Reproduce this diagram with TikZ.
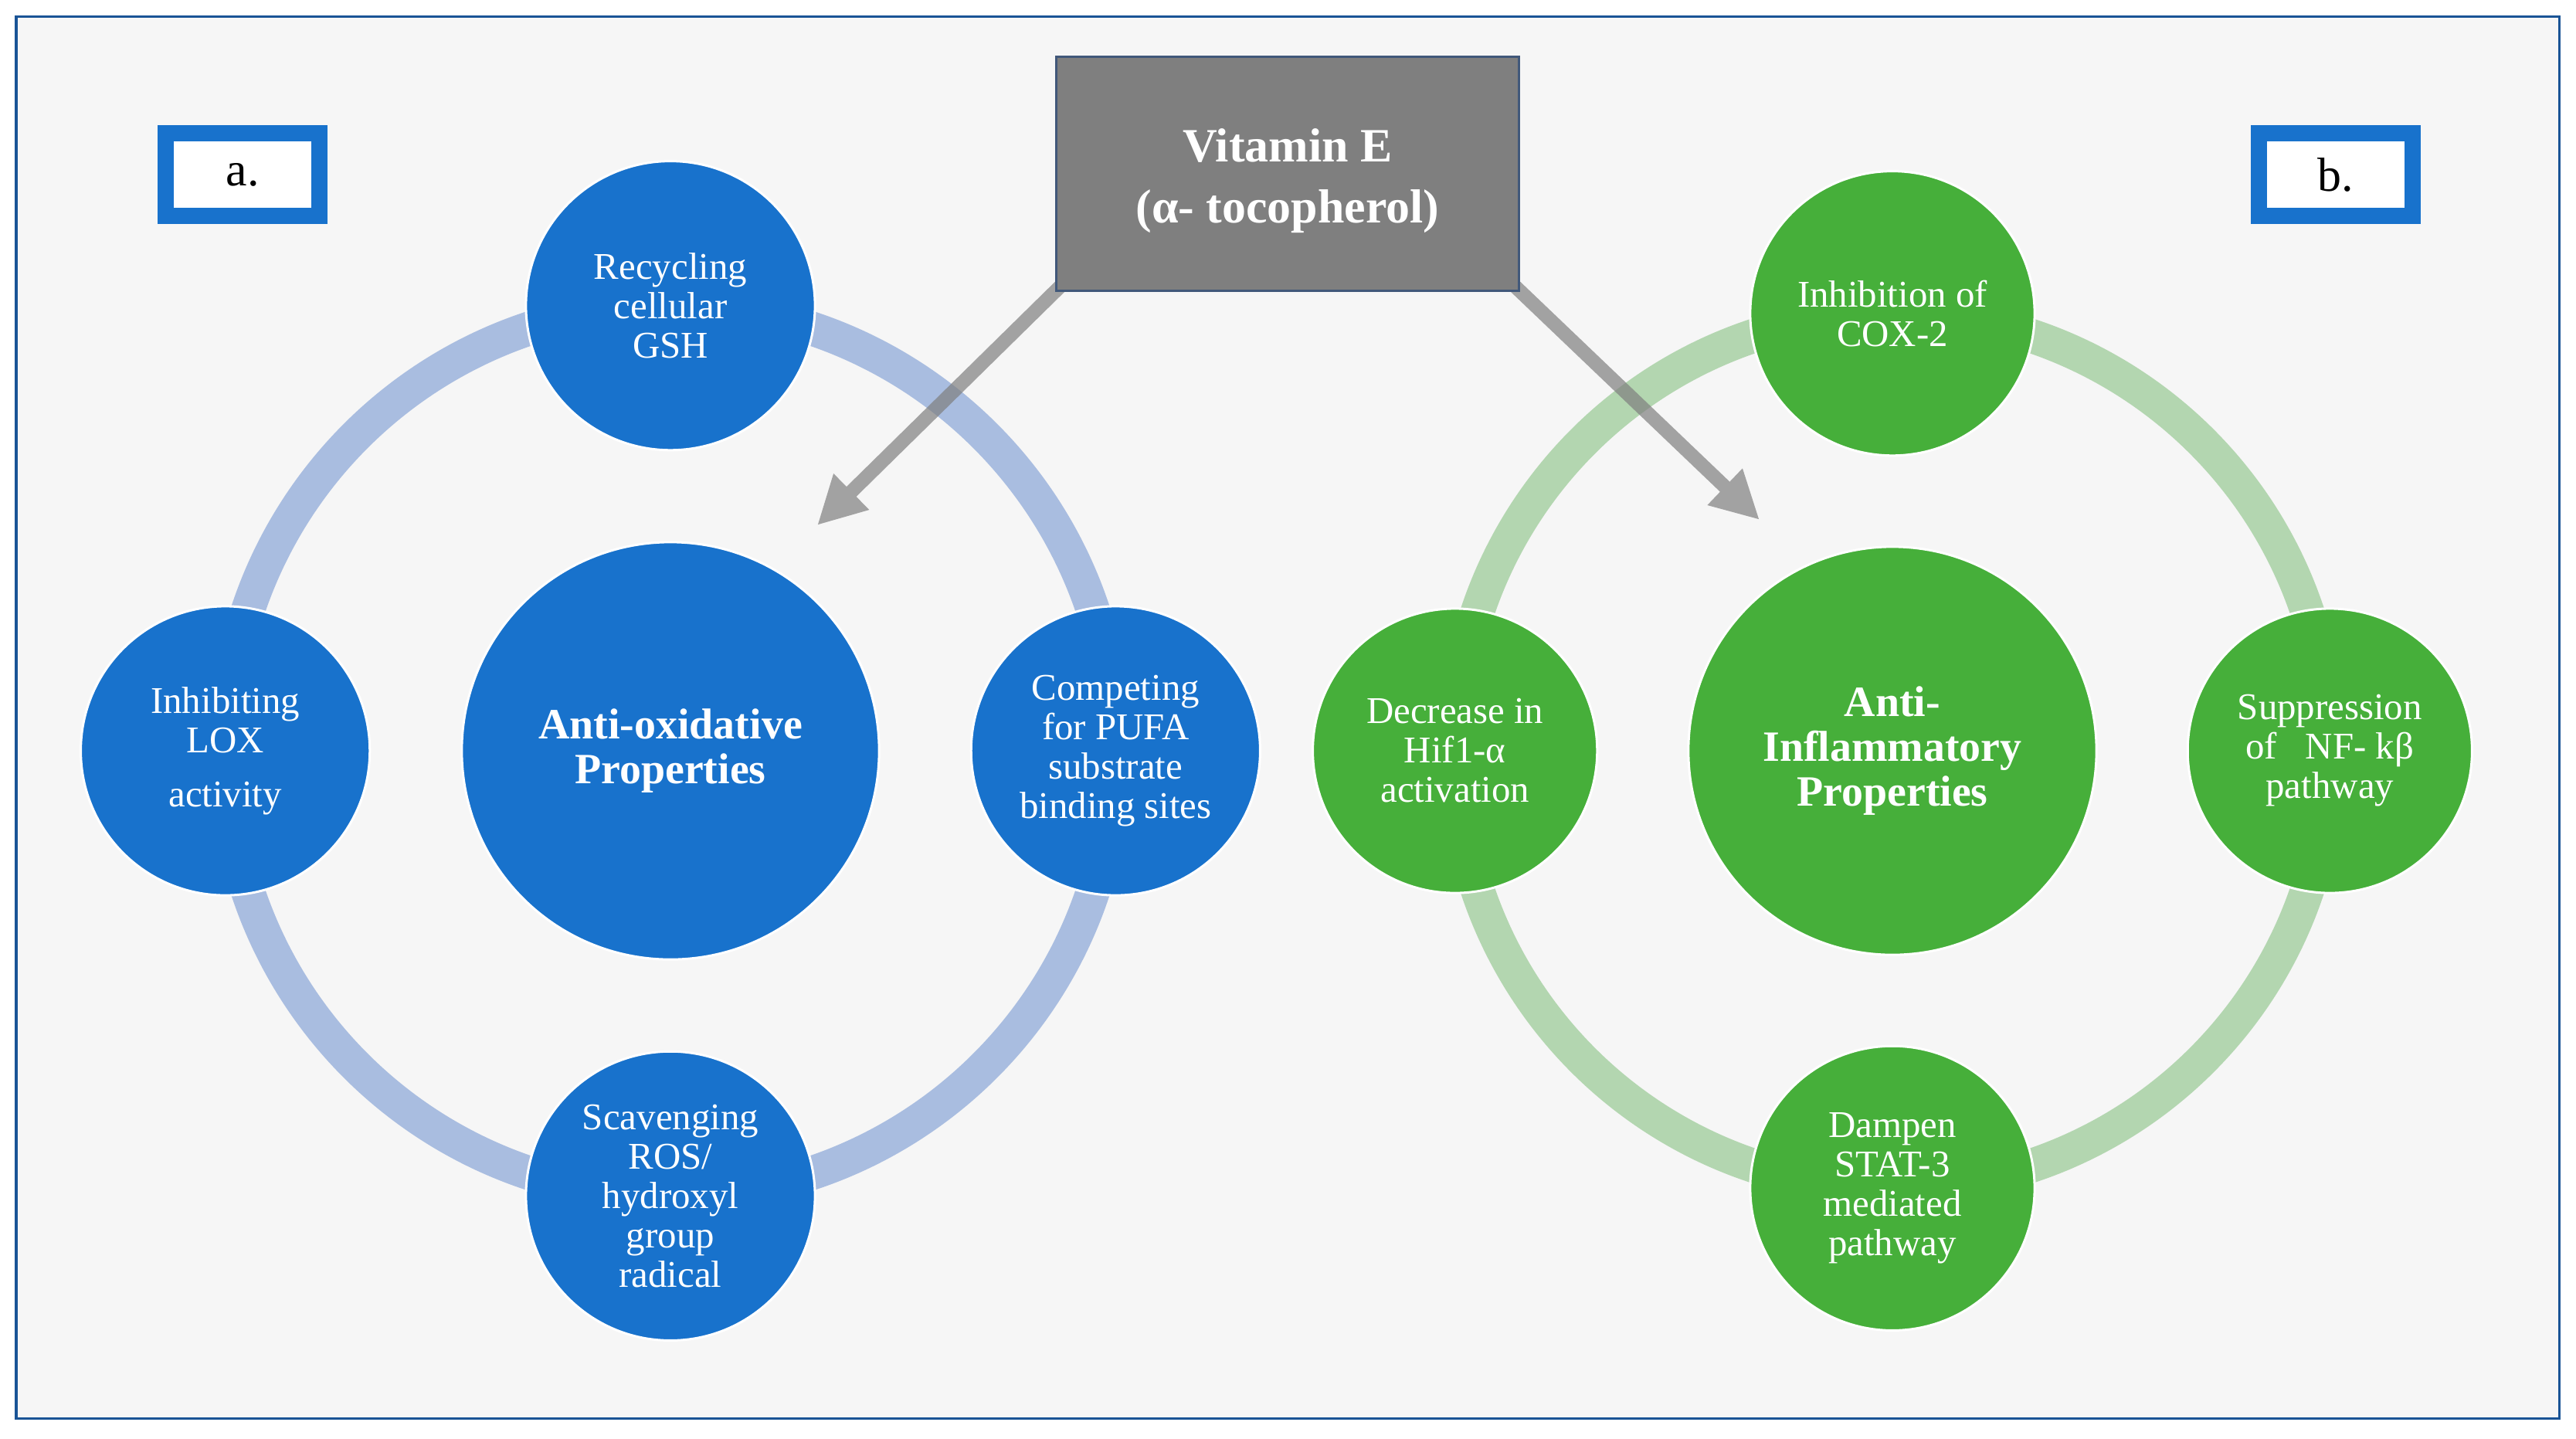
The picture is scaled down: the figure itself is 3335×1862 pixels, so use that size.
\documentclass[tikz,border=0pt]{standalone}
\usepackage{fontspec}
\setmainfont{Liberation Serif}
\usetikzlibrary{arrows.meta,positioning}

\definecolor{frameblue}{RGB}{26,84,150}
\definecolor{paper}{RGB}{246,246,246}
\definecolor{oxblue}{RGB}{24,114,204}
\definecolor{ringblue}{RGB}{169,189,224}
\definecolor{infgreen}{RGB}{70,175,58}
\definecolor{ringgreen}{RGB}{179,214,176}
\definecolor{boxgray}{RGB}{127,127,127}
\definecolor{boxedge}{RGB}{65,88,122}

\pgfdeclarelayer{back}
\pgfsetlayers{back,main}

\tikzset{every picture/.style={
  >={Triangle[length=0.62cm,width=0.61cm]}   % Wide filled heads.
  }
}

\begin{document}
\begin{tikzpicture}[x=0.01cm,y=-0.01cm,
    hub/.style={                % Big circles in the middle of each ring.
      circle,
      draw=white,
      line width=0.03cm,
      text=white,
      align=center,
      inner sep=0pt,
      outer sep=0pt,
      font=\fontsize{15.9}{16.6}\selectfont\bfseries
    },
    sat/.style={                % Small circles sitting on a ring.
      circle,
      draw=white,
      line width=0.03cm,
      text=white,
      align=center,
      inner sep=0pt,
      outer sep=0pt,
      minimum size=3.74cm,
      font=\fontsize{13.9}{14.5}\selectfont
    },
    tag/.style={                % Panel letters.
      rectangle,
      draw=oxblue,
      line width=0.21cm,
      fill=white,
      minimum width=1.99cm,
      minimum height=1.07cm,
      font=\fontsize{17.6}{20}\selectfont
    },
    ring/.style={               % Pale ring joining the small circles.
      line width=0.44cm
    },
    pointer/.style={            % Arrows leaving the vitamin box.
      ->,
      draw=boxgray,
      line width=0.18cm
    }]

    \useasboundingbox (0,0) rectangle (3335,1862);

    % Panel a: anti-oxidative side.
    \node[hub,fill=oxblue,minimum size=5.40cm] (oxid) at (868,972)
      {Anti-oxidative\\Properties};
    \node[sat,fill=oxblue] (gsh) [above=1.19cm of oxid]
      {Recycling\\cellular\\GSH};
    \node[sat,fill=oxblue] (lox) [left=1.19cm of oxid]
      {Inhibiting\\LOX\\[0.19cm]activity};
    \node[sat,fill=oxblue] (pufa) [right=1.19cm of oxid]
      {Competing\\for PUFA\\substrate\\binding sites};
    \node[sat,fill=oxblue] (ros) [below=1.19cm of oxid]
      {Scavenging\\ROS/\\hydroxyl\\group\\radical};

    % Panel b: anti-inflammatory side.
    \node[hub,fill=infgreen,minimum size=5.28cm] (infl) at (2450,972)
      {Anti-\\Inflammatory\\Properties};
    \node[sat,fill=infgreen,minimum size=3.68cm] (cox) [above=1.18cm of infl]
      {Inhibition of\\COX-2};
    \node[sat,fill=infgreen,minimum size=3.68cm] (hif) [left=1.18cm of infl]
      {Decrease in\\Hif1-α\\activation};
    \node[sat,fill=infgreen,minimum size=3.68cm] (nfkb) [right=1.18cm of infl]
      {Suppression\\of\ \ \ NF- kβ\\pathway};
    \node[sat,fill=infgreen,minimum size=3.68cm] (stat) [below=1.18cm of infl]
      {Dampen\\STAT-3\\mediated\\pathway};

    % Source box and panel letters.
    \node[draw=boxedge,line width=0.03cm,fill=boxgray,text=white,
      minimum width=5.99cm,minimum height=3.02cm,align=center,
      font=\fontsize{17.6}{20.5}\selectfont\bfseries] (vit) at (1667,225)
      {\rule{0pt}{0.62cm}Vitamin E\\[0.07cm](α- tocopherol)};
    \node[tag] (taga) at (314,226) {a.};
    \node[tag] (tagb) at (3024,226) {b.};

    \coordinate (oxtip) at (1058,680);
    \coordinate (intip) at (2278,673);

    % Frame, rings and arrows go underneath.
    \begin{pgfonlayer}{back}
      \draw[frameblue,line width=0.03cm,fill=paper] (21,21) rectangle (3313,1836);
      \draw[ring,ringblue] (oxid.center) circle (5.76cm);
      \draw[ring,ringgreen] (infl.center) circle (5.66cm);
      \begin{scope}[transparency group,opacity=0.7]
        \draw[pointer] ([shift={(10,-10)}]vit.south west) -- (oxtip);
        \draw[pointer] ([shift={(-10,-10)}]vit.south east) -- (intip);
      \end{scope}
    \end{pgfonlayer}
\end{tikzpicture}
\end{document}
